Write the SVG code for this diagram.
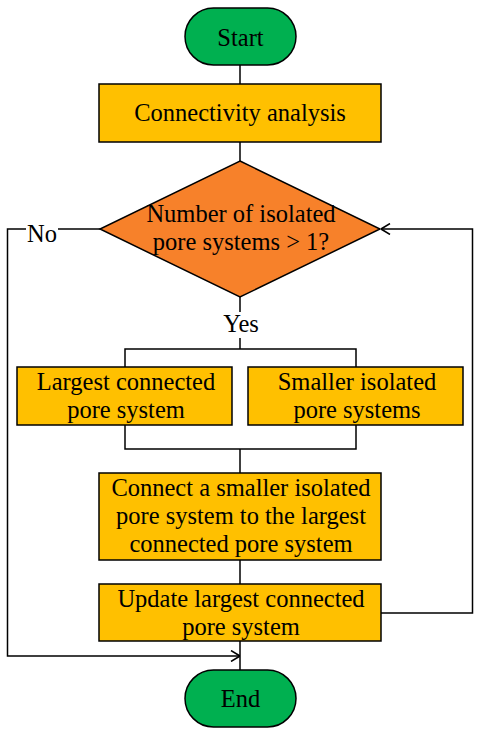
<svg xmlns="http://www.w3.org/2000/svg" width="479" height="734" viewBox="0 0 479 734">
<defs>
<style>
.t{font-family:"Liberation Serif","Times New Roman",serif;font-size:24.5px;fill:#000;text-anchor:middle}
.term{fill:#00b050;stroke:#000;stroke-width:1.5}
.proc{fill:#ffc000;stroke:#000;stroke-width:1.5}
.dec{fill:#f7812a;stroke:#000;stroke-width:1.5}
.c{fill:none;stroke:#000;stroke-width:1.5}
</style>
<marker id="arr" viewBox="0 0 10 12" refX="10" refY="6" markerWidth="10" markerHeight="12" markerUnits="userSpaceOnUse" orient="auto">
<path d="M1,0.5 L10,6 L1,11.5" fill="none" stroke="#000" stroke-width="1.5"/>
</marker>
</defs>
<rect width="479" height="734" fill="#fff"/>
<g id="connectors">
<line class="c" x1="240" y1="65" x2="240" y2="84"/>
<line class="c" x1="240" y1="142" x2="240" y2="161"/>
<polyline class="c" points="100,229 58,229"/>
<polyline class="c" points="26,229 7.5,229 7.5,656 240,656" marker-end="url(#arr)"/>
<polyline class="c" points="381,613 472.5,613 472.5,229 381,229" marker-end="url(#arr)"/>
<line class="c" x1="240" y1="297" x2="240" y2="312"/>
<line class="c" x1="240" y1="338" x2="240" y2="349"/>
<polyline class="c" points="125,367 125,349 356,349 356,367"/>
<polyline class="c" points="125,425 125,449 356,449 356,425"/>
<line class="c" x1="240" y1="449" x2="240" y2="473"/>
<line class="c" x1="240" y1="560" x2="240" y2="584"/>
<line class="c" x1="240" y1="641" x2="240" y2="670"/>
<text class="t" x="42" y="242">No</text>
<text class="t" x="241" y="332">Yes</text>
</g>
<g id="start">
<rect class="term" x="185" y="8" width="111" height="57" rx="28.5"/>
<text class="t" x="240.5" y="46">Start</text>
</g>
<g id="connectivity">
<rect class="proc" x="99" y="84" width="282" height="58"/>
<text class="t" x="240" y="121">Connectivity analysis</text>
</g>
<g id="decision">
<polygon class="dec" points="240,161 380,229 240,297 100,229"/>
<text class="t" x="241" y="222">Number of isolated</text>
<text class="t" x="241" y="250">pore systems &gt; 1?</text>
</g>
<g id="largest">
<rect class="proc" x="17" y="367" width="215" height="58"/>
<text class="t" x="126" y="390">Largest connected</text>
<text class="t" x="126" y="418">pore system</text>
</g>
<g id="smaller">
<rect class="proc" x="248" y="367" width="215" height="58"/>
<text class="t" x="357" y="390">Smaller isolated</text>
<text class="t" x="357" y="418">pore systems</text>
</g>
<g id="connect">
<rect class="proc" x="99" y="473" width="282" height="87"/>
<text class="t" x="241" y="496">Connect a smaller isolated</text>
<text class="t" x="241" y="524">pore system to the largest</text>
<text class="t" x="241" y="552">connected pore system</text>
</g>
<g id="update">
<rect class="proc" x="99" y="584" width="282" height="57"/>
<text class="t" x="241" y="607">Update largest connected</text>
<text class="t" x="241" y="635">pore system</text>
</g>
<g id="end">
<rect class="term" x="185" y="670" width="111" height="57" rx="28.5"/>
<text class="t" x="240.5" y="707">End</text>
</g>
</svg>
